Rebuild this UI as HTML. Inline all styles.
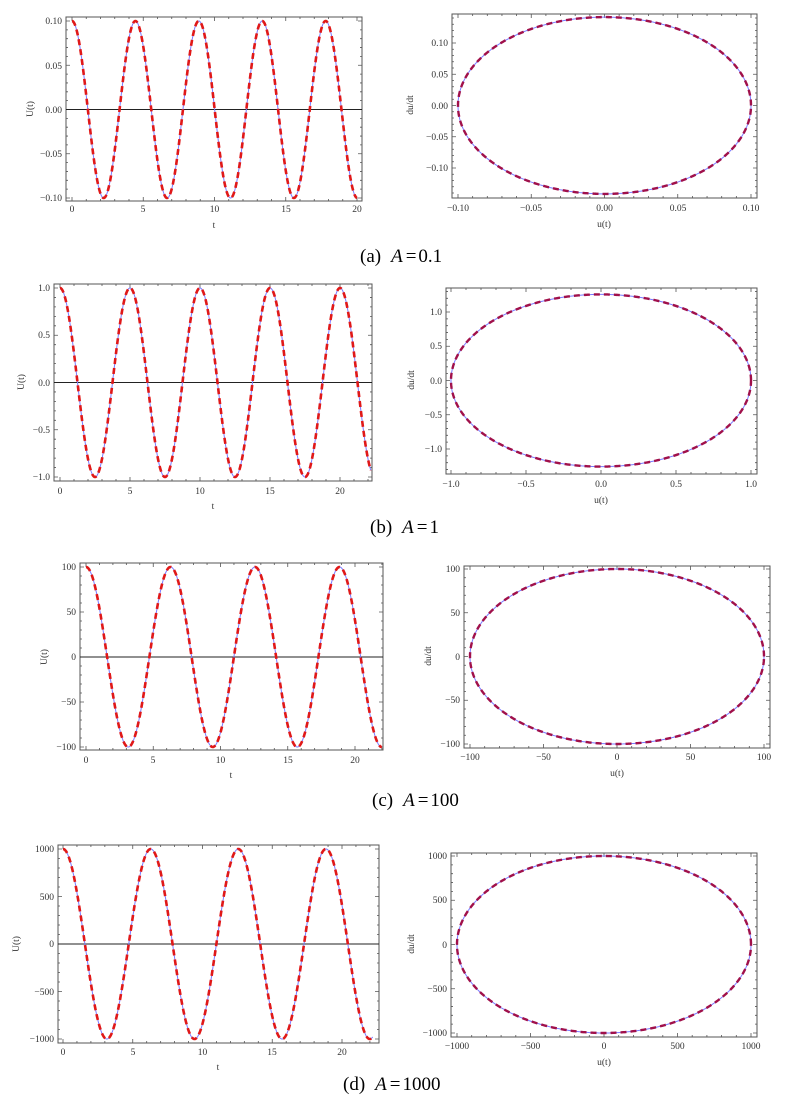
<!DOCTYPE html>
<html><head><meta charset="utf-8"><style>
html,body{margin:0;padding:0;background:#fff}
svg{display:block}
.tk{font-family:"Liberation Serif",serif;font-size:9.5px;fill:#333}
.cap{font-family:"Liberation Serif",serif;font-size:19px;fill:#000}
</style></head><body>
<svg id="s" width="789" height="1111" viewBox="0 0 789 1111" xmlns="http://www.w3.org/2000/svg">
<g id="plots"></g>
<g class="tk">
<g text-anchor="end"><text x="62" y="24">0.10</text><text x="62" y="69">0.05</text><text x="62" y="113">0.00</text><text x="62" y="157">−0.05</text><text x="62" y="201">−0.10</text></g>
<g text-anchor="middle"><text x="72" y="212">0</text><text x="143" y="212">5</text><text x="214.5" y="212">10</text><text x="286" y="212">15</text><text x="357" y="212">20</text><text x="214" y="228">t</text></g>
<text transform="translate(33,109) rotate(-90)" text-anchor="middle">U(t)</text>
<g text-anchor="end"><text x="448" y="46">0.10</text><text x="448" y="77.5">0.05</text><text x="448" y="109">0.00</text><text x="448" y="140">−0.05</text><text x="448" y="171">−0.10</text></g>
<g text-anchor="middle"><text x="458" y="211">−0.10</text><text x="531" y="211">−0.05</text><text x="604.5" y="211">0.00</text><text x="678" y="211">0.05</text><text x="751" y="211">0.10</text><text x="604" y="227">u(t)</text></g>
<text transform="translate(413,105) rotate(-90)" text-anchor="middle">du/dt</text>
<g text-anchor="end"><text x="50" y="291">1.0</text><text x="50" y="338">0.5</text><text x="50" y="386">0.0</text><text x="50" y="433">−0.5</text><text x="50" y="480">−1.0</text></g>
<g text-anchor="middle"><text x="60" y="494">0</text><text x="130" y="494">5</text><text x="200" y="494">10</text><text x="270" y="494">15</text><text x="340" y="494">20</text><text x="213" y="509">t</text></g>
<text transform="translate(24,382) rotate(-90)" text-anchor="middle">U(t)</text>
<g text-anchor="end"><text x="442" y="315">1.0</text><text x="442" y="349">0.5</text><text x="442" y="384">0.0</text><text x="442" y="418">−0.5</text><text x="442" y="452">−1.0</text></g>
<g text-anchor="middle"><text x="451" y="487">−1.0</text><text x="526" y="487">−0.5</text><text x="601" y="487">0.0</text><text x="676" y="487">0.5</text><text x="751" y="487">1.0</text><text x="601" y="503">u(t)</text></g>
<text transform="translate(414,380) rotate(-90)" text-anchor="middle">du/dt</text>
<g text-anchor="end"><text x="76" y="570">100</text><text x="76" y="615">50</text><text x="76" y="660">0</text><text x="76" y="705">−50</text><text x="76" y="750">−100</text></g>
<g text-anchor="middle"><text x="86" y="763">0</text><text x="153" y="763">5</text><text x="220.5" y="763">10</text><text x="288" y="763">15</text><text x="355" y="763">20</text><text x="231" y="778">t</text></g>
<text transform="translate(47,657) rotate(-90)" text-anchor="middle">U(t)</text>
<g text-anchor="end"><text x="460" y="572">100</text><text x="460" y="616">50</text><text x="460" y="660">0</text><text x="460" y="703">−50</text><text x="460" y="747">−100</text></g>
<g text-anchor="middle"><text x="470" y="760">−100</text><text x="543.5" y="760">−50</text><text x="617" y="760">0</text><text x="690.5" y="760">50</text><text x="764" y="760">100</text><text x="617" y="776">u(t)</text></g>
<text transform="translate(431,656) rotate(-90)" text-anchor="middle">du/dt</text>
<g text-anchor="end"><text x="54" y="852">1000</text><text x="54" y="900">500</text><text x="54" y="947">0</text><text x="54" y="995">−500</text><text x="54" y="1042">−1000</text></g>
<g text-anchor="middle"><text x="63" y="1055">0</text><text x="133" y="1055">5</text><text x="202.5" y="1055">10</text><text x="272" y="1055">15</text><text x="342" y="1055">20</text><text x="218" y="1070">t</text></g>
<text transform="translate(19,944) rotate(-90)" text-anchor="middle">U(t)</text>
<g text-anchor="end"><text x="447" y="859">1000</text><text x="447" y="903">500</text><text x="447" y="948">0</text><text x="447" y="992">−500</text><text x="447" y="1036">−1000</text></g>
<g text-anchor="middle"><text x="457" y="1049">−1000</text><text x="530.5" y="1049">−500</text><text x="604" y="1049">0</text><text x="677.5" y="1049">500</text><text x="751" y="1049">1000</text><text x="604" y="1065">u(t)</text></g>
<text transform="translate(414,944) rotate(-90)" text-anchor="middle">du/dt</text>
</g>
<g class="cap">
<text x="360" y="262">(a)<tspan dx="10" font-style="italic">A</tspan><tspan dx="3">=</tspan><tspan dx="2">0.1</tspan></text>
<text x="370" y="533">(b)<tspan dx="10" font-style="italic">A</tspan><tspan dx="3">=</tspan><tspan dx="2">1</tspan></text>
<text x="372" y="806">(c)<tspan dx="10" font-style="italic">A</tspan><tspan dx="3">=</tspan><tspan dx="2">100</tspan></text>
<text x="343" y="1090">(d)<tspan dx="10" font-style="italic">A</tspan><tspan dx="3">=</tspan><tspan dx="2">1000</tspan></text>
</g>
</svg>
<script>
var g=document.getElementById('plots'),NS='http://www.w3.org/2000/svg';
function el(t,a){var e=document.createElementNS(NS,t);for(var k in a)e.setAttribute(k,a[k]);g.appendChild(e);return e;}
function frame(f,xt,yt){
 el('rect',{x:f[0],y:f[1],width:f[2]-f[0],height:f[3]-f[1],fill:'none',stroke:'#555','stroke-width':1});
 var d='';
 xt.forEach(function(p){d+='M'+p[0]+' '+f[3]+'v-'+p[1]+'M'+p[0]+' '+f[1]+'v'+p[1];});
 yt.forEach(function(p){d+='M'+f[0]+' '+p[0]+'h'+p[1]+'M'+f[2]+' '+p[0]+'h-'+p[1];});
 el('path',{d:d,stroke:'#555','stroke-width':0.8,fill:'none'});
}
function ticks(a,b,step,minorN,lo,hi){var r=[];for(var i=-40;i<=40;i++){var v=a+i*step/minorN;if(v<lo-0.01||v>hi+0.01)continue;r.push([v,(i%minorN===0)?4:2]);}return r;}
function left(f,x0,sx,y0,sy,A,w,tmax){
 var xt=ticks(x0,0,sx*5,5,f[0],f[2]);
 var yt=ticks(y0,0,sy*0.5,5,f[1],f[3]);
 frame(f,xt,yt);
 el('line',{x1:f[0],x2:f[2],y1:y0,y2:y0,stroke:'#222','stroke-width':1});
 var d='';for(var t=0;t<=tmax;t+=0.02){d+=(t?'L':'M')+(x0+t*sx).toFixed(2)+' '+(y0-sy*Math.cos(w*t)).toFixed(2);}
 el('path',{d:d,fill:'none',stroke:'#7a7aff','stroke-width':1});
 el('path',{d:d,fill:'none',stroke:'#e01818','stroke-width':2.6,'stroke-dasharray':'6 4'});
}
function right(f,cx,ax,cy,ay,sxTick,syTick){
 frame(f,ticks(cx,0,sxTick,5,f[0],f[2]),ticks(cy,0,syTick,5,f[1],f[3]));
 var d='';for(var i=0;i<=720;i++){var a=i/720*2*Math.PI;d+=(i?'L':'M')+(cx+ax*Math.cos(a)).toFixed(2)+' '+(cy-ay*Math.sin(a)).toFixed(2);}
 el('path',{d:d,fill:'none',stroke:'#7a7aff','stroke-width':1});
 el('path',{d:d,fill:'none',stroke:'#a0104a','stroke-width':2.4,'stroke-dasharray':'6 4'});
}
left([66,17,362,201],72,14.25,109.5,88.5,1,Math.SQRT2*0.9985,20);
left([54,284,372,481],60,14,382.5,94.5,1,2*Math.PI/5,22.2);
left([80,563,383,750],86,13.45,657,90,1,1,22);
left([58,845,379,1043],63,13.95,944,95,1,1,22.2);
right([452,14,757,198],604.5,146.5,105.5,88.4,73.25,31.25);
right([446,288,757,474],601,150,380.5,86.1,75,34.25);
right([464,566,770,748],617,147,656.5,87.5,73.5,43.75);
right([451,853,757,1037],604,147,944.5,88.5,73.5,44.25);
</script>
</body></html>
